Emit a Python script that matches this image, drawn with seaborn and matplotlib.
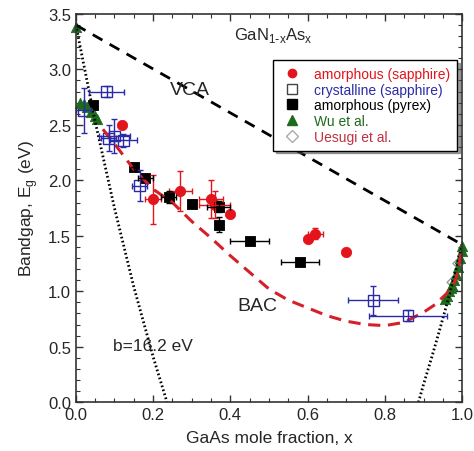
import numpy as np
import pandas as pd
import seaborn as sns
from matplotlib import pyplot as plt
from matplotlib.lines import Line2D
from matplotlib.ticker import MultipleLocator

# data
red_x = [0.12, 0.20, 0.27, 0.35, 0.36, 0.40, 0.60, 0.62, 0.70]
red_y = [2.50, 1.83, 1.90, 1.83, 1.78, 1.70, 1.47, 1.52, 1.35]
red_xerr = [0, 0.02, 0.03, 0.03, 0.04, 0, 0, 0.02, 0]
red_yerr = [0, 0.22, 0.18, 0.17, 0.12, 0, 0, 0.05, 0]

blue_x = [0.02, 0.08, 0.085, 0.10, 0.123, 0.165, 0.77, 0.86]
blue_y = [2.63, 2.80, 2.38, 2.40, 2.36, 1.95, 0.92, 0.78]
blue_xerr = [0.02, 0.045, 0.02, 0.04, 0.035, 0.02, 0.065, 0.10]
blue_yerr = [0.20, 0.05, 0.12, 0.15, 0.06, 0.14, 0.13, 0.05]

black_x = [0.045, 0.15, 0.18, 0.24, 0.30, 0.37, 0.37, 0.45, 0.58]
black_y = [2.68, 2.12, 2.02, 1.85, 1.79, 1.76, 1.60, 1.45, 1.26]
black_xerr = [0, 0, 0.02, 0.02, 0, 0.03, 0, 0.05, 0.05]
black_yerr = [0, 0, 0, 0.05, 0, 0.05, 0.07, 0, 0]

wu_x = [0.0, 0.01, 0.02, 0.03, 0.04, 0.05, 0.055,
        0.955, 0.96, 0.965, 0.97, 0.975, 0.98, 0.985, 0.99, 0.995, 1.0, 1.0]
wu_y = [3.38, 2.70, 2.69, 2.66, 2.62, 2.58, 2.55,
        0.93, 0.96, 1.00, 1.03, 1.06, 1.10, 1.16, 1.22, 1.30, 1.36, 1.41]

ues_x = [0.975, 0.99]
ues_y = [1.08, 1.25]

vca_x = [0.0, 1.0]
vca_y = [3.40, 1.42]

bac_x = [0.07, 0.10, 0.15, 0.20, 0.25, 0.30, 0.35, 0.40, 0.45, 0.50, 0.55, 0.60,
         0.65, 0.70, 0.75, 0.80, 0.85, 0.90, 0.93, 0.96, 0.98, 0.99, 1.0]
bac_y = [2.46, 2.33, 2.10, 1.92, 1.80, 1.63, 1.48, 1.32, 1.17, 1.02, 0.92, 0.85,
         0.78, 0.73, 0.70, 0.69, 0.72, 0.81, 0.88, 0.98, 1.08, 1.18, 1.42]

bow_l_x = [0.0, 0.05, 0.10, 0.15, 0.20, 0.236]
bow_l_y = [3.40, 2.53, 1.75, 1.04, 0.41, 0.0]
bow_r_x = [0.887, 0.90, 0.92, 0.94, 0.96, 0.98, 1.0]
bow_r_y = [0.0, 0.16, 0.39, 0.63, 0.88, 1.14, 1.42]

RED = "#e3141b"
BLUE = "#2b2ba8"
GREEN = "#1c6b1c"

sns.set_style("ticks")
plt.rcParams["font.family"] = ["Liberation Sans", "DejaVu Sans"]

fig = plt.figure(figsize=(4.74, 4.52), dpi=100)
ax = fig.add_axes([0.160, 0.108, 0.815, 0.859])

# model lines
sns.lineplot(x=vca_x, y=vca_y, ax=ax, color="black", lw=2.0, sort=False)
ax.lines[-1].set_dashes((4, 3))
sns.lineplot(x=bow_l_x, y=bow_l_y, ax=ax, color="black", lw=2.0, sort=False)
ax.lines[-1].set_linestyle((0, (0.6, 0.9)))
sns.lineplot(x=bow_r_x, y=bow_r_y, ax=ax, color="black", lw=2.0, sort=False)
ax.lines[-1].set_linestyle((0, (0.6, 0.9)))
sns.lineplot(x=bac_x, y=bac_y, ax=ax, color="#d4202a", lw=2.2, sort=False)
ax.lines[-1].set_dashes((4, 2.5))

# error bars
ax.errorbar(blue_x, blue_y, xerr=blue_xerr, yerr=blue_yerr, fmt="none",
            ecolor=BLUE, elinewidth=1.0, capsize=2)
ax.errorbar(red_x, red_y, xerr=red_xerr, yerr=red_yerr, fmt="none",
            ecolor=RED, elinewidth=1.0, capsize=2)
ax.errorbar(black_x, black_y, xerr=black_xerr, yerr=black_yerr, fmt="none",
            ecolor="black", elinewidth=1.0, capsize=2)

# markers
sns.scatterplot(x=blue_x, y=blue_y, ax=ax, marker="s", s=60,
                facecolor="none", edgecolor=BLUE, linewidth=1.0)
sns.scatterplot(x=red_x, y=red_y, ax=ax, marker="o", s=55,
                color=RED, edgecolor=RED)
sns.scatterplot(x=black_x, y=black_y, ax=ax, marker="s", s=60,
                color="black", edgecolor="black")
sns.scatterplot(x=ues_x, y=ues_y, ax=ax, marker="D", s=30,
                facecolor="none", edgecolor="#999999", linewidth=1.0)
sns.scatterplot(x=wu_x, y=wu_y, ax=ax, marker="^", s=55,
                color=GREEN, edgecolor=GREEN)
for c in ax.collections:
    c.set_clip_on(False)

ax.set_xlim(0, 1.0)
ax.set_ylim(0, 3.5)
ax.xaxis.set_major_locator(MultipleLocator(0.2))
ax.xaxis.set_minor_locator(MultipleLocator(0.05))
ax.yaxis.set_major_locator(MultipleLocator(0.5))
ax.yaxis.set_minor_locator(MultipleLocator(0.1))
ax.xaxis.set_major_formatter(plt.FormatStrFormatter("%.1f"))
ax.yaxis.set_major_formatter(plt.FormatStrFormatter("%.1f"))
ax.tick_params(which="both", direction="in", top=True, right=True,
               labelsize=12, color="#333333")
ax.tick_params(which="major", length=5, width=1)
ax.tick_params(which="minor", length=3, width=0.8)
for sp in ax.spines.values():
    sp.set_linewidth(1.2)
    sp.set_color("#333333")

ax.set_xlabel("GaAs mole fraction, x", fontsize=12.5, labelpad=6)
ax.set_ylabel("Bandgap, E$_\\mathregular{g}$ (eV)", fontsize=12.5, labelpad=6)

ax.text(0.51, 3.31, "GaN$_\\mathregular{1\\text{-}x}$As$_\\mathregular{x}$",
        fontsize=12, ha="center", va="center")
ax.text(0.295, 2.82, "VCA", fontsize=14, ha="center", va="center")
ax.text(0.47, 0.87, "BAC", fontsize=14, ha="center", va="center")
ax.text(0.20, 0.51, "b=16.2 eV", fontsize=12.5, ha="center", va="center")

handles = [
    Line2D([], [], ls="none", marker="o", ms=6, color=RED),
    Line2D([], [], ls="none", marker="s", ms=6.5, mfc="none", mec="#444444"),
    Line2D([], [], ls="none", marker="s", ms=6.5, color="black"),
    Line2D([], [], ls="none", marker="^", ms=7, color=GREEN),
    Line2D([], [], ls="none", marker="D", ms=6, mfc="none", mec="#aaaaaa"),
]
labels = ["amorphous (sapphire)", "crystalline (sapphire)", "amorphous (pyrex)",
          "Wu et al.", "Uesugi et al."]
leg = ax.legend(handles, labels, loc="upper right", bbox_to_anchor=(0.997, 0.892),
                fontsize=10, frameon=True, fancybox=False, shadow=True,
                handletextpad=0.8, borderpad=0.5, labelspacing=0.12,
                handlelength=1.6, borderaxespad=0.3)
leg.get_frame().set_edgecolor("black")
leg.get_frame().set_linewidth(1.0)
for t, c in zip(leg.get_texts(), [RED, BLUE, "black", GREEN, "#c03040"]):
    t.set_color(c)

fig.savefig("out.png", dpi=100)
